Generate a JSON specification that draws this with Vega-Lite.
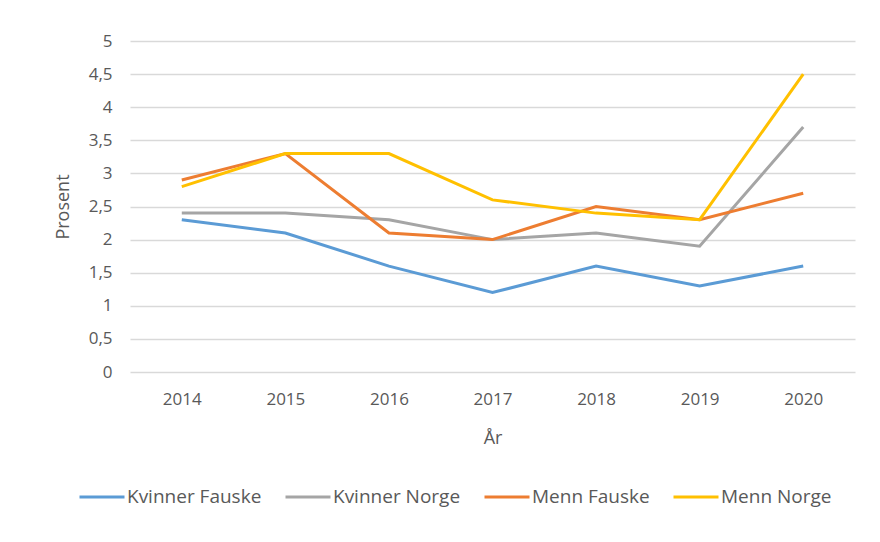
{
  "$schema": "https://vega.github.io/schema/vega-lite/v6.json",
  "autosize": "none",
  "width": 725,
  "height": 331,
  "padding": {"left": 130, "top": 41, "right": 25, "bottom": 170},
  "background": "white",
  "config": {
    "view": {"stroke": null},
    "font": "Open Sans",
    "axis": {"labelColor": "#595959", "titleColor": "#595959", "labelFont": "Open Sans", "titleFont": "Open Sans", "titleFontWeight": "normal"}
  },
  "data": {"values": [
    {"year": "2014", "series": "Kvinner Fauske", "value": 2.3},
    {"year": "2015", "series": "Kvinner Fauske", "value": 2.1},
    {"year": "2016", "series": "Kvinner Fauske", "value": 1.6},
    {"year": "2017", "series": "Kvinner Fauske", "value": 1.2},
    {"year": "2018", "series": "Kvinner Fauske", "value": 1.6},
    {"year": "2019", "series": "Kvinner Fauske", "value": 1.3},
    {"year": "2020", "series": "Kvinner Fauske", "value": 1.6},
    {"year": "2014", "series": "Kvinner Norge", "value": 2.4},
    {"year": "2015", "series": "Kvinner Norge", "value": 2.4},
    {"year": "2016", "series": "Kvinner Norge", "value": 2.3},
    {"year": "2017", "series": "Kvinner Norge", "value": 2.0},
    {"year": "2018", "series": "Kvinner Norge", "value": 2.1},
    {"year": "2019", "series": "Kvinner Norge", "value": 1.9},
    {"year": "2020", "series": "Kvinner Norge", "value": 3.7},
    {"year": "2014", "series": "Menn Fauske", "value": 2.9},
    {"year": "2015", "series": "Menn Fauske", "value": 3.3},
    {"year": "2016", "series": "Menn Fauske", "value": 2.1},
    {"year": "2017", "series": "Menn Fauske", "value": 2.0},
    {"year": "2018", "series": "Menn Fauske", "value": 2.5},
    {"year": "2019", "series": "Menn Fauske", "value": 2.3},
    {"year": "2020", "series": "Menn Fauske", "value": 2.7},
    {"year": "2014", "series": "Menn Norge", "value": 2.8},
    {"year": "2015", "series": "Menn Norge", "value": 3.3},
    {"year": "2016", "series": "Menn Norge", "value": 3.3},
    {"year": "2017", "series": "Menn Norge", "value": 2.6},
    {"year": "2018", "series": "Menn Norge", "value": 2.4},
    {"year": "2019", "series": "Menn Norge", "value": 2.3},
    {"year": "2020", "series": "Menn Norge", "value": 4.5}
  ]},
  "mark": {"type": "line", "strokeWidth": 3},
  "encoding": {
    "x": {
      "field": "year", "type": "ordinal", "title": "År",
      "scale": {"type": "point", "padding": 0.5},
      "axis": {"labelAngle": 0, "domain": false, "ticks": false, "grid": false, "labelFontSize": 17, "labelPadding": 19, "titleFontSize": 18, "titlePadding": 22}
    },
    "y": {
      "field": "value", "type": "quantitative", "title": "Prosent",
      "scale": {"domain": [0, 5], "nice": false},
      "axis": {"values": [0, 0.5, 1, 1.5, 2, 2.5, 3, 3.5, 4, 4.5, 5], "labelExpr": "replace(format(datum.value, '~g'), '.', ',')", "domain": false, "ticks": false, "gridColor": "#d9d9d9", "gridWidth": 1.5, "labelFontSize": 17, "labelPadding": 18, "titleFontSize": 18, "titlePadding": 16}
    },
    "color": {
      "field": "series", "type": "nominal", "title": null,
      "scale": {"domain": ["Kvinner Fauske", "Kvinner Norge", "Menn Fauske", "Menn Norge"], "range": ["#5B9BD5", "#A5A5A5", "#ED7D31", "#FFC000"]},
      "legend": {"orient": "none", "legendX": -52, "legendY": 432, "direction": "horizontal", "symbolType": "stroke", "symbolSize": 2025, "symbolStrokeWidth": 3, "labelFontSize": 19, "labelColor": "#595959", "labelFont": "Open Sans", "columnPadding": 17, "labelOffset": 1}
    }
  }
}
